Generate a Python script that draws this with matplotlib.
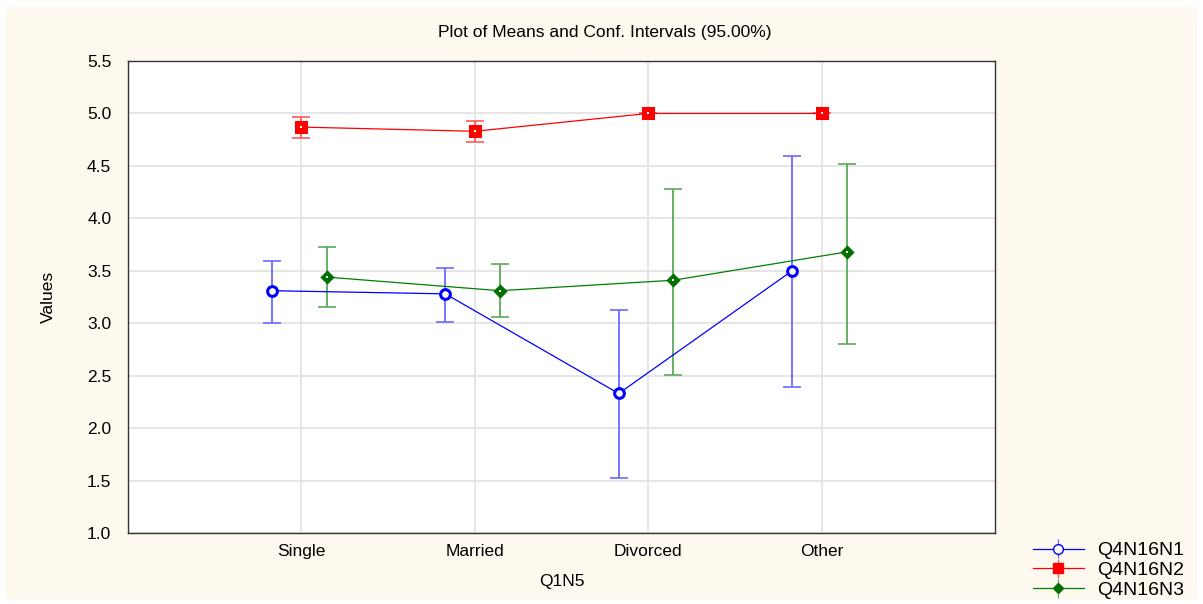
import matplotlib
matplotlib.use("Agg")
import matplotlib.pyplot as plt
from matplotlib.patches import Rectangle
import numpy as np

plt.rcParams['font.family'] = ['Liberation Sans', 'DejaVu Sans']

categories = ["Single", "Married", "Divorced", "Other"]
series_names = ["Q4N16N1", "Q4N16N2", "Q4N16N3"]
n1_mean = [3.31, 3.28, 2.33, 3.50]
n1_low = [3.00, 3.01, 1.52, 2.39]
n1_high = [3.59, 3.53, 3.13, 4.59]
n2_mean = [4.87, 4.83, 5.00, 5.00]
n2_low = [4.77, 4.73, 5.00, 5.00]
n2_high = [4.97, 4.93, 5.00, 5.00]
n3_mean = [3.44, 3.31, 3.41, 3.68]
n3_low = [3.15, 3.06, 2.51, 2.80]
n3_high = [3.73, 3.56, 4.28, 4.52]

bg = "#FDF9EF"
W, H = 1203, 604
fig = plt.figure(figsize=(W/100, H/100), dpi=100, facecolor="white")
fig.patches.append(Rectangle((5/W, 4/H), (1197-5)/W, (600-7)/H, transform=fig.transFigure,
                             facecolor=bg, edgecolor='none', zorder=-10))
ax = fig.add_axes([128/W, 1-533/H, (995-128)/W, (533-61)/H])
ax.set_facecolor("white")

x = np.arange(1, len(categories)+1)
specs = [
    (n1_mean, n1_low, n1_high, -0.17, "#0000FF", "#6A6AFF", "o", "#0000FF", "white", 7),
    (n2_mean, n2_low, n2_high, 0.0, "#FF0000", "#FF5A5A", "s", "#FF0000", "#FF0000", 7),
    (n3_mean, n3_low, n3_high, 0.145, "#008000", "#5AAA5A", "D", "#007000", "#007000", 5.5),
]
handles = []
for (m, lo, hi, off, lc, ec, mk, mec, mfc, ms), name in zip(specs, series_names):
    m = np.array(m); lo = np.array(lo); hi = np.array(hi)
    xs = x + off
    err = np.vstack([m - lo, hi - m])
    ax.errorbar(xs, m, yerr=err, fmt='none', ecolor=ec, elinewidth=1.3,
                capsize=6.5, capthick=1.2, zorder=2)
    ax.plot(xs, m, color=lc, lw=0.9, zorder=3)
    ax.plot(xs, m, linestyle='none', marker=mk, markersize=ms, markeredgecolor=mec,
            markerfacecolor=mfc, markeredgewidth=2.2, zorder=4)
    ax.plot(xs, m, linestyle='none', marker='s', markersize=1.6, markeredgewidth=0,
            markerfacecolor='white', zorder=5)
    h = ax.errorbar([], [], yerr=[], color=lc, ecolor=ec, marker=mk, markersize=ms,
                    markeredgecolor=mec, markerfacecolor=mfc, lw=0.9, capsize=4)
    handles.append(h)

ax.set_xlim(0, 5)
ax.set_ylim(1.0, 5.5)
ax.set_xticks(x)
ax.set_xticklabels(categories, fontsize=12.5)
yt = np.arange(1.0, 5.51, 0.5)
ax.set_yticks(yt)
ax.set_yticklabels([f"{v:.1f}" for v in yt], fontsize=12.5)
ax.grid(True, color="#E2E2E2", lw=1.2, zorder=0)
ax.set_axisbelow(True)
ax.tick_params(axis='x', length=0, pad=8)
ax.tick_params(axis='y', length=0, pad=12)
for s in ax.spines.values():
    s.set_color("#333333")
    s.set_linewidth(1.0)

ax.set_xlabel("Q1N5", fontsize=12.5, labelpad=11)
ax.set_ylabel("Values", fontsize=12.5, labelpad=22)
fig.text(0.503, 1-32/H, "Plot of Means and Conf. Intervals (95.00%)",
         ha='center', va='center', fontsize=12.5)

leg = fig.legend(handles, series_names, loc='lower right',
                 bbox_to_anchor=(1192/W, -0.005), frameon=False, fontsize=14,
                 handlelength=2.6, labelspacing=0.12, handletextpad=0.7,
                 borderaxespad=0.0)

fig.savefig("out.png", dpi=100, facecolor="white")
